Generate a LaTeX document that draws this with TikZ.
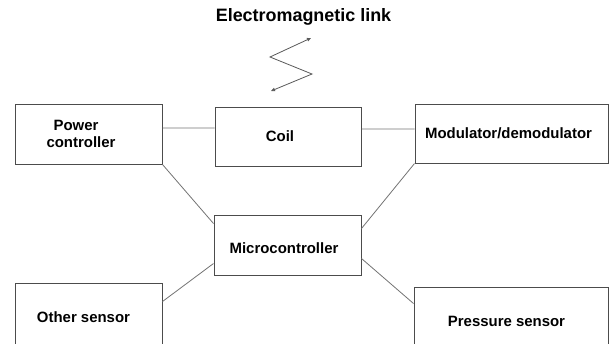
\documentclass[tikz,border=0pt]{standalone}
\usepackage{fontspec}
\setmainfont{Liberation Sans}
\usetikzlibrary{arrows.meta}
\begin{document}
\begin{tikzpicture}[x=1bp,y=-1bp,
  blk/.style={draw=black!70, line width=1bp, rectangle, align=center,
    font=\fontsize{15}{17.5}\selectfont\bfseries, inner sep=0pt},
  conn/.style={draw=black!55, line width=0.8bp},
  wave/.style={draw=black!65, line width=0.8bp, {Triangle[length=4bp,width=3.5bp]}-{Triangle[length=4bp,width=3.5bp]}}]
\useasboundingbox (0,0) rectangle (609,343);
\clip (0,0) rectangle (609,343);
\node[font=\fontsize{18}{21}\selectfont\bfseries] (title) at (303.5,17) {Electromagnetic link};
\node[blk, minimum width=146bp, minimum height=60bp] (power) at (89,134) {Power\hspace*{26bp}\\controller\hspace*{16bp}};
\node[blk, minimum width=146bp, minimum height=59bp] (coil) at (288,136.5) {Coil\hspace*{16bp}};
\node[blk, minimum width=193bp, minimum height=59bp] (mod) at (511.5,133.5) {Modulator/demodulator\hspace*{6bp}};
\node[blk, minimum width=147bp, minimum height=60bp] (micro) at (287.5,245) {\raisebox{-3bp}[\height][\depth]{Microcontroller}\hspace*{7bp}};
\node[blk, minimum width=146bp, minimum height=68bp] (other) at (89,317) {Other sensor\hspace*{11bp}};
\node[blk, minimum width=194bp, minimum height=68bp] (press) at (511,321) {Pressure sensor\hspace*{9bp}};
\coordinate (z1) at (311,38);
\coordinate (z2) at (270,57);
\coordinate (z3) at (312,74);
\coordinate (z4) at (271,91);
\draw[wave] (z4) -- (z3) -- (z2) -- (z1);
\draw[conn] ([yshift=6bp]power.east) -- ([yshift=8.5bp]coil.west);
\draw[conn] ([yshift=7.5bp]coil.east) -- ([yshift=4.5bp]mod.west);
\draw[conn] (power.south east) -- ([yshift=-9bp]micro.north west);
\draw[conn] (mod.south west) -- ([yshift=-14bp]micro.north east);
\draw[conn] ([yshift=12bp]micro.south west) -- ([yshift=-19bp]other.north east);
\draw[conn] ([yshift=17bp]micro.south east) -- ([yshift=-17bp]press.north west);
\end{tikzpicture}
\end{document}
